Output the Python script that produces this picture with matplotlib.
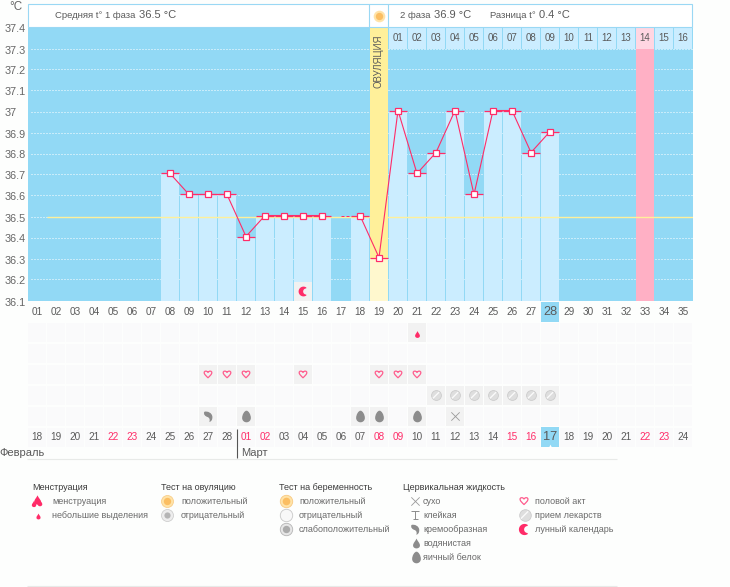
import numpy as np
import matplotlib
matplotlib.use('Agg')
import matplotlib.pyplot as plt
from matplotlib.path import Path
from matplotlib.patches import Rectangle
from matplotlib.transforms import offset_copy

plt.rcParams['font.family'] = ['Liberation Sans', 'DejaVu Sans']

# Cycle data
cycle_days = list(range(1, 36))
temps = [None, None, None, None, None, None, None,
         36.7, 36.6, 36.6, 36.6, 36.4, 36.5, 36.5, 36.5, 36.5, None, 36.5,
         36.3, 37.0, 36.7, 36.8, 37.0, 36.6, 37.0, 37.0, 36.8, 36.9,
         None, None, None, None, None, None, None]
ovulation_day = 19
period_day = 33
today = 28
coverline = 36.5
broken_day = 17

y_levels = [37.4, 37.3, 37.2, 37.1, 37.0, 36.9, 36.8, 36.7, 36.6, 36.5, 36.4, 36.3, 36.2, 36.1]
y_labels = ['37.4', '37.3', '37.2', '37.1', '37', '36.9', '36.8', '36.7', '36.6', '36.5', '36.4', '36.3', '36.2', '36.1']

# Days after ovulation, shown in the cells above the plot
after_days = ['01', '02', '03', '04', '05', '06', '07', '08', '09', '10', '11', '12', '13', '14', '15', '16']
after_start = 20

dates = ['18', '19', '20', '21', '22', '23', '24', '25', '26', '27', '28',
         '01', '02', '03', '04', '05', '06', '07', '08', '09', '10', '11', '12',
         '13', '14', '15', '16', '17', '18', '19', '20', '21', '22', '23', '24']
red_days = [5, 6, 12, 13, 19, 20, 26, 27, 33, 34]

# Symbol rows
bleeding_days = [21]
heart_days = [10, 11, 12, 15, 19, 20, 21]
pill_days = [22, 23, 24, 25, 26, 27, 28]
creamy_days = [10]
egg_days = [12, 18, 19, 21]
dry_days = [23]
moon_day = 15

SKY = '#92D9F5'
BAR = '#CBEDFF'
PINK = '#FF2C68'
BORDER = '#9AD8F4'
TXT = '#5A5A5A'
YELLOW = '#FFF09A'
PALE_YELLOW = '#FFF8CE'
FIG_BG = '#FDFEFD'
EMPTY = '#FAFAFB'
USED = '#F2F2F2'
GRAY = '#8C8C8C'

# Icon shapes
CURVE = [Path.MOVETO] + [Path.CURVE4] * 12 + [Path.CLOSEPOLY]
DROP = Path([(0, 1), (0.2, 0.5), (0.7, 0.1), (0.7, -0.4), (0.7, -0.8), (0.35, -1), (0, -1),
             (-0.35, -1), (-0.7, -0.8), (-0.7, -0.4), (-0.7, 0.1), (-0.2, 0.5), (0, 1), (0, 1)], CURVE)
EGG = Path([(0, 1), (0.35, 1), (0.75, 0.35), (0.75, -0.25), (0.75, -0.75), (0.35, -1), (0, -1),
            (-0.35, -1), (-0.75, -0.75), (-0.75, -0.25), (-0.75, 0.35), (-0.35, 1), (0, 1), (0, 1)], CURVE)
HEART = Path([(0, -0.9), (-0.5, -0.4), (-1, 0), (-1, 0.45), (-1, 0.95), (-0.3, 1), (0, 0.5),
              (0.3, 1), (1, 0.95), (1, 0.45), (1, 0), (0.5, -0.4), (0, -0.9), (0, -0.9)], CURVE)
COMMA = Path([(-0.75, 0.85), (-0.2, 1.05), (0.7, 0.65), (0.7, -0.1), (0.72, -0.6), (0.5, -0.9), (0.15, -1),
              (0.3, -0.6), (0.2, -0.25), (-0.15, -0.1), (-0.55, 0), (-1, 0.4), (-0.75, 0.85), (-0.75, 0.85)], CURVE)
SLASH = Path([(-1, -1), (1, 1)], [Path.MOVETO, Path.LINETO])
STICKY = Path([(-1, 1), (1, 1), (0, 1), (0, -1), (-0.6, -1), (0.6, -1)],
              [Path.MOVETO, Path.LINETO, Path.MOVETO, Path.LINETO, Path.MOVETO, Path.LINETO])
angles = np.linspace(0.3 * np.pi, 1.7 * np.pi, 30)
inner = np.linspace(1.5 * np.pi, 0.5 * np.pi, 30)
MOON = Path(np.vstack([np.c_[np.cos(angles), np.sin(angles)],
                       np.c_[0.55 + 0.62 * np.cos(inner), 0.62 * np.sin(inner)]]), closed=False)


def add_axes_px(left, top, right, bottom):
    return fig.add_axes([left / 730, 1 - bottom / 587, (right - left) / 730, (bottom - top) / 587])


def draw_pill(a, x, y, size=50):
    a.scatter(x, y, s=size, marker='o', facecolor='#DEDEDE', edgecolor='#CCCCCC', linewidth=0.6, zorder=5)
    a.scatter(x, y, s=size * 0.4, marker=SLASH, facecolor='none', edgecolor='#FAFAFA', linewidth=1.0, zorder=6)


fig = plt.figure(figsize=(7.3, 5.87), dpi=100, facecolor=FIG_BG)

# Temperature chart
ax = add_axes_px(27.5, 27.5, 692.5, 300.5)
ax.set_facecolor(SKY)
ax.set_xlim(0.5, 35.5)
ax.set_ylim(36.1, 37.4)
for side in ax.spines.values():
    side.set_visible(False)
ax.set_xticks([])
ax.set_yticks([])

# y labels are left aligned in the margin and sit a little under their grid line
label_pos = offset_copy(ax.get_yaxis_transform(), fig=fig, x=-22.5, y=-2, units='dots')
for level, label in zip(y_levels, y_labels):
    ax.text(0, level, label, transform=label_pos, fontsize=7.8, color='#666666', ha='left', va='center', clip_on=False)

# Dotted grid: one pixel on, two off
ax.hlines(y_levels[1:], 0.68, 35.5, color='white', linewidth=0.72, linestyles=(0, (1, 2)),
          zorder=1, clip_on=False)

bar_w = 18 / 19
bar_days = [d for d, t in zip(cycle_days, temps) if t is not None and d != ovulation_day]
bar_vals = [t for d, t in zip(cycle_days, temps) if t is not None and d != ovulation_day]
ax.bar(bar_days, np.array(bar_vals) - 36.1, bottom=36.1, width=bar_w, color=BAR, zorder=2)

# Ovulation column and the day 14 column
ovu_temp = temps[ovulation_day - 1]
ax.bar(ovulation_day, ovu_temp - 36.1, bottom=36.1, width=bar_w, color=PALE_YELLOW, zorder=2)
ax.bar(ovulation_day, 37.4 - ovu_temp, bottom=ovu_temp, width=bar_w, color=YELLOW, zorder=2)
ax.bar(period_day, 37.3 - 36.1, bottom=36.1, width=bar_w, color='#FFB0C5', zorder=2)

# Cells with the days after ovulation
for i, label in enumerate(after_days):
    day = after_start + i
    ax.bar(day, 0.1, bottom=37.3, width=bar_w, color='#FFD6E2' if day == period_day else BAR, zorder=2)
    ax.text(day, 37.35, label, ha='center', va='center', fontsize=7.0, color=TXT, zorder=3)
ax.text(ovulation_day, 37.24, 'ОВУЛЯЦИЯ', rotation=90, ha='center', va='center', fontsize=6.9, color=TXT, zorder=3)

ax.hlines(coverline, 1.5, 35.5, color=YELLOW, linewidth=1.0, zorder=3)

# Temperature curve sits one pixel above the grid
marks = offset_copy(ax.transData, fig=fig, y=1, units='dots')
curve = [np.nan if t is None else t for t in temps]
ax.plot(cycle_days, curve, color=PINK, linewidth=0.8, zorder=4, transform=marks)
cap_days = np.array(bar_days + [ovulation_day])
ax.hlines(bar_vals + [ovu_temp], cap_days - 0.47, cap_days + 0.47, color=PINK, linewidth=0.9, zorder=4, transform=marks)
ax.plot([broken_day, broken_day + 0.47], [coverline, coverline], color=PINK, linewidth=0.72,
        linestyle=(0, (3, 2)), zorder=4, transform=marks)
ax.plot(cycle_days, curve, linestyle='none', marker='s', markersize=3.7, markerfacecolor='white',
        markeredgecolor=PINK, markeredgewidth=0.9, zorder=5, transform=marks)

# Lunar calendar mark
ax.bar(moon_day, 0.09, bottom=36.1, width=bar_w, color='#F1F1F1', zorder=3)
ax.scatter(moon_day, 36.147, s=50, marker=MOON, color=PINK, linewidth=0, zorder=5)

# Symbol rows below the chart, row 0 holds the cycle days and row 6 the dates
rows = add_axes_px(27.5, 301.2, 692.5, 447.5)
rows.set_xlim(0.5, 35.5)
rows.set_ylim(6.5, -0.5)
rows.axis('off')

row_used = {1: bleeding_days, 3: heart_days, 4: pill_days, 5: creamy_days + egg_days + dry_days}
for row in [1, 2, 3, 4, 5, 6]:
    used = row_used.get(row, [])
    colors = [USED if d in used else EMPTY for d in cycle_days]
    rows.bar(cycle_days, 0.91, bottom=row - 0.455, width=bar_w, color=colors, zorder=1)

rows.bar(today, 0.96, bottom=-0.48, width=bar_w, color=SKY, zorder=1)
rows.bar(today, 0.96, bottom=5.52, width=bar_w, color=SKY, zorder=1)
rows.scatter(today, 6.42, s=7, marker='^', color='white', linewidth=0, zorder=2)

for i, day in enumerate(cycle_days):
    big = day == today
    rows.text(day, 0, f'{day:02d}', ha='center', va='center', fontsize=9.2 if big else 7.2, color=TXT, zorder=3)
    color = PINK if day in red_days else TXT
    rows.text(day, 6, dates[i], ha='center', va='center', fontsize=9.2 if big else 7.2, color=color, zorder=3)

rows.scatter(bleeding_days, [1.05] * len(bleeding_days), s=24, marker=DROP, color=PINK, linewidth=0, zorder=3)
rows.scatter(heart_days, [3] * len(heart_days), s=30, marker=HEART, facecolor='none', edgecolor='#FF5C8D', linewidth=0.9, zorder=3)
draw_pill(rows, pill_days, [4] * len(pill_days))
rows.scatter(creamy_days, [5] * len(creamy_days), s=70, marker=COMMA, color=GRAY, linewidth=0, zorder=3)
rows.scatter(egg_days, [5] * len(egg_days), s=70, marker=EGG, color=GRAY, linewidth=0, zorder=3)
rows.scatter(dry_days, [5] * len(dry_days), s=36, marker='x', color='#9A9A9A', linewidth=0.6, zorder=3)

# Page layer in pixel coordinates: header, month names and legend
page = add_axes_px(0, 0, 730, 587)
page.set_xlim(0, 730)
page.set_ylim(587, 0)
page.axis('off')
page.patch.set_alpha(0)

page.add_patch(Rectangle((27.5, 3.5), 664.5, 23.5, facecolor='white', edgecolor=BORDER, linewidth=0.8))
page.vlines([369, 388], 3.5, 27, color=BORDER, linewidth=0.8)
page.scatter(379, 16, s=70, color='#FFE3A8', linewidth=0)
page.scatter(379, 16, s=28, color='#FBBE62', linewidth=0)

page.text(55, 15.5, 'Средняя t° 1 фаза', fontsize=6.8, color=TXT, va='center')
page.text(139, 15, '36.5 °C', fontsize=8.0, color=TXT, va='center')
page.text(400, 15.5, '2 фаза', fontsize=6.8, color=TXT, va='center')
page.text(434, 15, '36.9 °C', fontsize=8.0, color=TXT, va='center')
page.text(490, 15.5, 'Разница t°', fontsize=6.8, color=TXT, va='center')
page.text(539, 15, '0.4 °C', fontsize=8.0, color=TXT, va='center')
page.text(9, 7, '°C', fontsize=8.4, color='#666666', va='center')

page.vlines(236.5, 429, 458, color='#555555', linewidth=0.8)
page.text(-1, 453, 'Февраль', fontsize=8.0, color=TXT, va='center')
page.text(241, 453, 'Март', fontsize=8.0, color=TXT, va='center')
page.hlines([458.5, 586], 27, 617, color='#E8EAE8', linewidth=0.8)

legend_heads = [(32, 'Менструация'), (161, 'Тест на овуляцию'), (279, 'Тест на беременность'), (403, 'Цервикальная жидкость')]
legend_items = [
    (52, 501, 'менструация'), (52, 515, 'небольшие выделения'),
    (181, 501, 'положительный'), (181, 515, 'отрицательный'),
    (299, 501, 'положительный'), (299, 515, 'отрицательный'), (299, 529, 'слабоположительный'),
    (423, 501, 'сухо'), (423, 515, 'клейкая'), (423, 529, 'кремообразная'), (423, 543, 'водянистая'), (423, 557, 'яичный белок'),
    (535, 501, 'половой акт'), (535, 515, 'прием лекарств'), (535, 529, 'лунный календарь'),
]
for x, label in legend_heads:
    page.text(x, 487, label, fontsize=6.5, color='#3C3C3C', va='center')
for x, y, label in legend_items:
    page.text(x, y, label, fontsize=6.5, color='#6A6A6A', va='center')

# Legend icons
page.scatter([34, 37.5, 40], [504, 500, 503], s=[20, 45, 22], marker=DROP, color=PINK, linewidth=0)
page.scatter(37.5, 515.5, s=18, marker=DROP, color=PINK, linewidth=0)
page.scatter(167, 501, s=75, color='#FFE3A8', edgecolor='#F8C980', linewidth=0.5)
page.scatter(167, 501, s=28, color='#FBBE62', linewidth=0)
page.scatter(167, 515, s=75, color='#EDEDED', edgecolor='#C8C8C8', linewidth=0.5)
page.scatter(167, 515, s=20, color='#B5B5B5', linewidth=0)
page.scatter(286, 501, s=80, color='#FFE3A8', edgecolor='#F8C980', linewidth=0.6)
page.scatter(285.5, 501, s=30, color='#FBBE62', linewidth=0)
page.scatter(286, 515, s=80, color='#F8F8F8', edgecolor='#C8C8C8', linewidth=0.6)
page.scatter(286, 529, s=80, color='#E6E6E6', edgecolor='#B5B5B5', linewidth=0.6)
page.scatter(285.5, 529, s=28, color='#ABABAB', linewidth=0)
page.scatter(415, 501, s=36, marker='x', color='#9A9A9A', linewidth=0.6)
page.scatter(415, 515, s=36, marker=STICKY, facecolor='none', edgecolor='#8C8C8C', linewidth=0.7)
page.scatter(415, 529, s=65, marker=COMMA, color=GRAY, linewidth=0)
page.scatter(415.5, 543, s=50, marker=DROP, color=GRAY, linewidth=0)
page.scatter(415.5, 557, s=70, marker=EGG, color=GRAY, linewidth=0)
page.scatter(524, 501, s=32, marker=HEART, facecolor='none', edgecolor='#FF5C8D', linewidth=0.9)
draw_pill(page, 524.5, 515, size=70)
page.scatter(524, 529, s=65, marker=MOON, color=PINK, linewidth=0)

fig.savefig('out.png', dpi=100, facecolor=FIG_BG)
